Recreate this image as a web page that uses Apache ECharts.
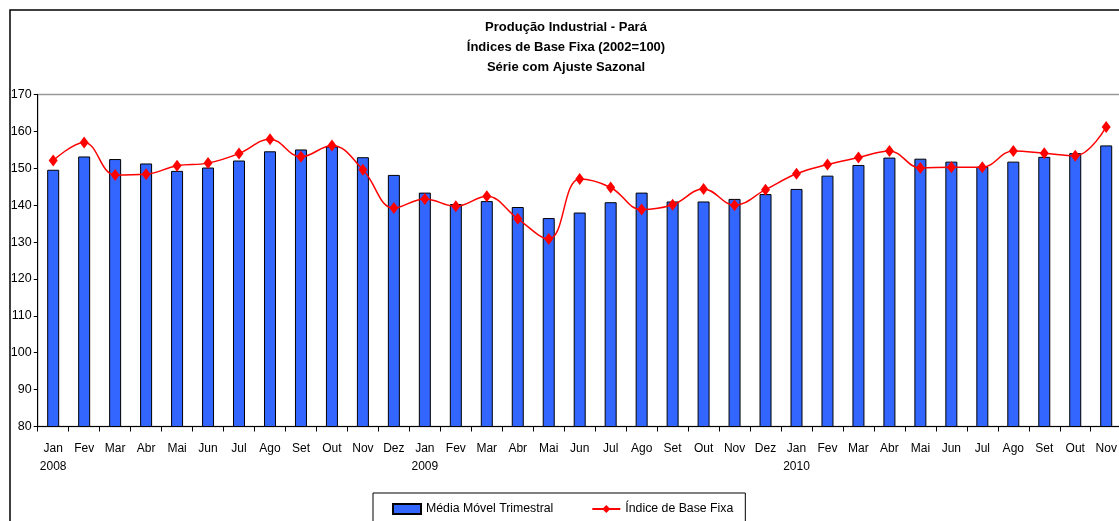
<!DOCTYPE html>
<html>
<head>
<meta charset="utf-8">
<script src="https://cdn.jsdelivr.net/npm/echarts@6/dist/echarts.min.js"></script>
<style>
html,body{margin:0;padding:0;background:#fff;}
#chart{width:1119px;height:521px;}
</style>
</head>
<body>
<div id="chart"></div>
<script>
const categories = [
  'Jan','Fev','Mar','Abr','Mai','Jun','Jul','Ago','Set','Out','Nov','Dez',
  'Jan','Fev','Mar','Abr','Mai','Jun','Jul','Ago','Set','Out','Nov','Dez',
  'Jan','Fev','Mar','Abr','Mai','Jun','Jul','Ago','Set','Out','Nov'
];
const yearLabels = ['2008','','','','','','','','','','','',
  '2009','','','','','','','','','','','',
  '2010','','','','','','','','','',''];
const mediaMovelTrimestral = [
  149.6,153.2,152.5,151.3,149.3,150.2,152.1,154.6,155.1,155.9,153.0,148.2,
  143.4,140.3,141.1,139.5,136.5,138.0,140.8,143.4,141.0,141.0,141.7,143.0,
  144.4,148.0,150.9,152.9,152.6,151.8,150.4,151.8,153.1,154.1,156.2
];
const indiceBaseFixa = [
  152.1,157.0,148.2,148.4,150.7,151.4,154.0,157.9,153.1,156.2,149.6,139.2,
  141.7,139.7,142.4,136.3,130.8,147.1,144.8,138.8,140.1,144.4,140.0,144.2,
  148.5,151.0,152.9,154.7,150.1,150.3,150.3,154.7,154.1,153.4,161.2
];
const yTicks = {min: 80, max: 170, interval: 10};
const titleLines = ['Produção Industrial - Pará','Índices de Base Fixa (2002=100)','Série com Ajuste Sazonal'];
const seriesNames = ['Média Móvel Trimestral','Índice de Base Fixa'];

const FONT = "'Liberation Sans',Arial,sans-serif";
const chart = echarts.init(document.getElementById('chart'), null, {renderer:'canvas'});
chart.setOption({
  animation: false,
  backgroundColor: '#fff',
  textStyle: {fontFamily: FONT},
  graphic: [{
    type: 'rect', silent: true, z: -1,
    shape: {x: 10, y: 10, width: 1200, height: 600},
    style: {fill: 'none', stroke: '#000', lineWidth: 1.5}
  }],
  title: {
    text: titleLines.join('\n'),
    left: 566, top: 17, textAlign: 'center', padding: 0,
    textStyle: {fontFamily: FONT, fontSize: 13, fontWeight: 'bold', color: '#000', lineHeight: 20}
  },
  legend: {
    left: 373, top: 493,
    padding: [10, 12, 20, 19],
    borderColor: '#000', borderWidth: 1,
    itemWidth: 28, itemHeight: 10, itemGap: 38,
    textStyle: {fontFamily: FONT, fontSize: 12.3, color: '#000'},
    data: [
      {name: seriesNames[0], icon: 'rect'},
      {name: seriesNames[1]}
    ]
  },
  grid: {
    left: 37.7, top: 94.5, width: 1084, height: 332,
    outerBoundsMode: 'none', containLabel: false,
    show: true, borderColor: '#999', borderWidth: 1.5, backgroundColor: 'transparent'
  },
  xAxis: {
    type: 'category',
    data: categories,
    boundaryGap: true,
    axisLine: {lineStyle: {color: '#000', width: 1}},
    axisTick: {show: true, length: 5, lineStyle: {color: '#000'}},
    axisLabel: {
      interval: 0, margin: 13, color: '#000', fontFamily: FONT, fontSize: 12, lineHeight: 18,
      formatter: function (v, i) { return yearLabels[i] ? v + '\n' + yearLabels[i] : v; }
    },
    splitLine: {show: false}
  },
  yAxis: {
    type: 'value',
    min: yTicks.min, max: yTicks.max, interval: yTicks.interval,
    axisLine: {show: true, lineStyle: {color: '#000', width: 1}},
    axisTick: {show: true, length: 4, lineStyle: {color: '#000'}},
    axisLabel: {margin: 6, color: '#000', fontFamily: FONT, fontSize: 12.5},
    splitLine: {show: false}
  },
  series: [
    {
      name: seriesNames[0], type: 'bar', data: mediaMovelTrimestral,
      barWidth: 12,
      itemStyle: {color: '#3366FF', borderColor: '#000', borderWidth: 1}
    },
    {
      name: seriesNames[1], type: 'line', data: indiceBaseFixa,
      smooth: 0.4,
      symbol: 'diamond', symbolSize: [9, 12],
      lineStyle: {color: '#FF0000', width: 1.5},
      itemStyle: {color: '#FF0000'},
      z: 3
    }
  ]
});
</script>
</body>
</html>
